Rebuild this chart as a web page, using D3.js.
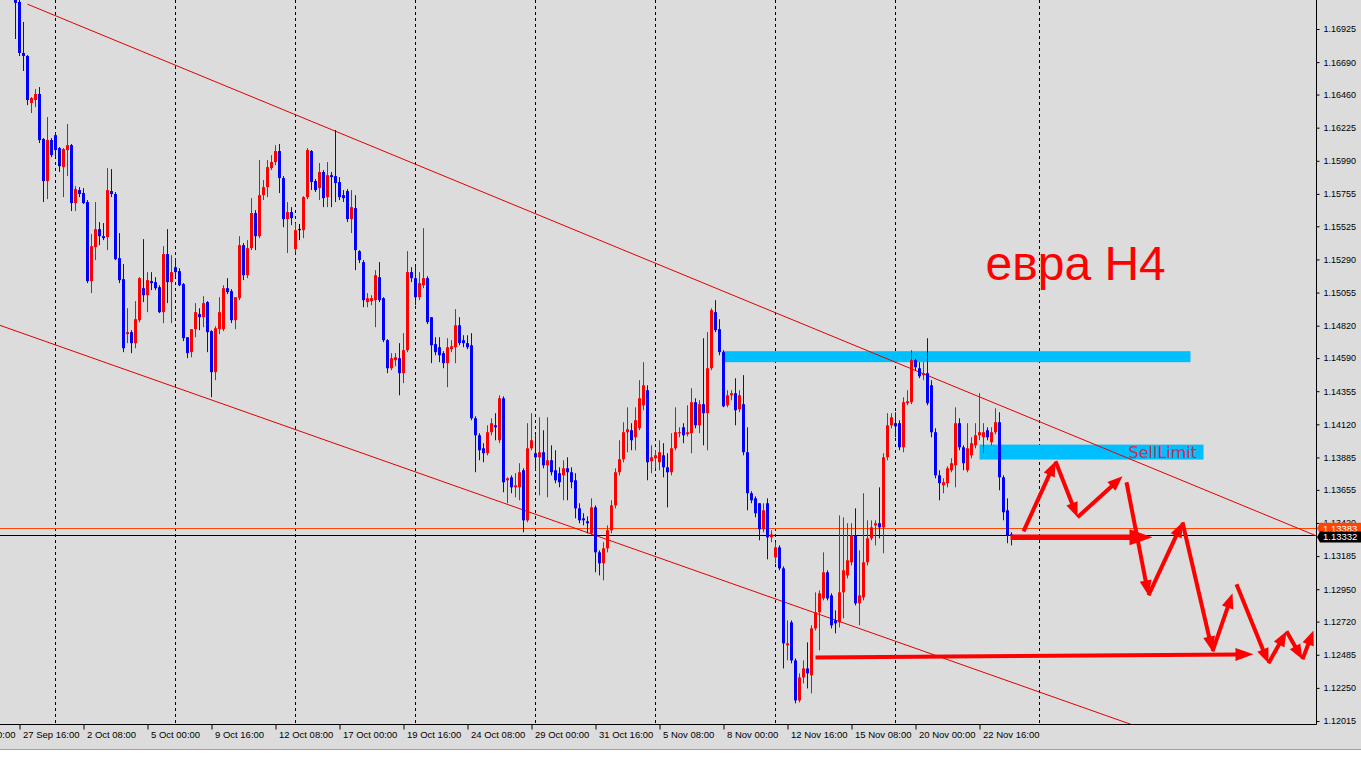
<!DOCTYPE html>
<html><head><meta charset="utf-8">
<script src="https://cdn.jsdelivr.net/npm/d3@7"></script>
<style>html,body{margin:0;padding:0;background:#fff;}svg{display:block;}</style>
</head><body>
<svg id="chart" width="1361" height="757"></svg>
<script>
// ---------- DATA (EURUSD H4) ----------
const opens = [1.17131,1.17117,1.16755,1.16733,1.16400,1.16421,1.16464,1.16144,1.15846,1.16137,
1.16172,1.16080,1.15945,1.16066,1.16101,1.15690,1.15782,1.15761,1.15697,1.15136,
1.15377,1.15505,1.15455,1.15448,1.15775,1.15754,1.15299,1.15150,1.14760,1.14774,
1.14696,1.14859,1.15086,1.15036,1.15136,1.15129,1.15093,1.14916,1.15328,1.15129,
1.15235,1.15207,1.15115,1.14738,1.14632,1.14795,1.14902,1.14880,1.14987,1.14781,
1.14490,1.14795,1.14795,1.15086,1.15065,1.14859,1.15015,1.15391,1.15178,1.15370,
1.15619,1.15455,1.15746,1.15803,1.15938,1.15981,1.16059,1.15867,1.15576,1.15626,
1.15363,1.15505,1.15498,1.15732,1.16059,1.15846,1.15796,1.15910,1.15732,1.15888,
1.15881,1.15839,1.15746,1.15775,1.15576,1.15654,1.15349,1.15271,1.14987,1.14994,
1.15001,1.15164,1.15015,1.14717,1.14518,1.14575,1.14589,1.14483,1.14646,1.15200,
1.15157,1.15022,1.15107,1.15157,1.14880,1.14689,1.14667,1.14625,1.14554,1.14653,
1.14667,1.14823,1.14717,1.14696,1.14681,1.14163,1.14042,1.13950,1.13915,1.14064,
1.14113,1.14007,1.14305,1.13723,1.13744,1.13673,1.13673,1.13794,1.13439,1.13950,
1.13915,1.13886,1.13922,1.13829,1.13865,1.13794,1.13773,1.13758,1.13808,1.13780,
1.13723,1.13524,1.13453,1.13432,1.13347,1.13531,1.13212,1.13134,1.13240,1.13368,
1.13545,1.13780,1.13872,1.14064,1.14078,1.14028,1.14092,1.14255,1.14362,1.13858,
1.13879,1.13851,1.13900,1.13815,1.13780,1.13950,1.14057,1.14099,1.14050,1.14057,
1.14277,1.14113,1.14263,1.14199,1.14518,1.14916,1.14795,1.14632,1.14255,1.14326,
1.14341,1.14227,1.14263,1.13922,1.13631,1.13595,1.13560,1.13375,1.13560,1.13318,
1.13176,1.13247,1.13098,1.12552,1.12715,1.12445,1.12161,1.12324,1.12388,1.12339,
1.12672,1.12786,1.12885,1.13070,1.12906,1.12729,1.12715,1.12928,1.13048,1.13141,
1.13332,1.12850,1.12892,1.13141,1.13311,1.13403,1.13418,1.13389,1.13886,1.14113,
1.14128,1.14128,1.13957,1.14270,1.14277,1.14575,1.14518,1.14469,1.14483,1.14397,
1.14064,1.13758,1.13687,1.13702,1.13794,1.13829,1.14128,1.13957,1.13794,1.13900,
1.13971,1.14042,1.14028,1.14078,1.13993,1.14064,1.14135,1.13744,1.13510,1.13340];

const highs = [1.17152,1.17131,1.16975,1.16740,1.16442,1.16499,1.16513,1.16151,1.16300,1.16151,
1.16187,1.16087,1.16080,1.16251,1.16109,1.15810,1.15803,1.15796,1.15711,1.15470,
1.15697,1.15555,1.15548,1.15938,1.15931,1.15768,1.15477,1.15257,1.14944,1.14788,
1.14994,1.15164,1.15434,1.15200,1.15200,1.15164,1.15107,1.15384,1.15505,1.15320,
1.15299,1.15228,1.15122,1.14738,1.14795,1.14980,1.14944,1.15029,1.14994,1.14788,
1.14816,1.15022,1.15107,1.15157,1.15079,1.15022,1.15455,1.15406,1.15427,1.15725,
1.15640,1.15995,1.15853,1.15995,1.16030,1.16101,1.16109,1.15881,1.15697,1.15661,
1.15548,1.15541,1.15739,1.16080,1.16066,1.15860,1.15974,1.15924,1.15981,1.15910,
1.16208,1.15874,1.15782,1.15789,1.15782,1.15746,1.15356,1.15285,1.15051,1.15036,
1.15214,1.15271,1.15022,1.14724,1.14625,1.14625,1.14696,1.14767,1.15349,1.15235,
1.15235,1.15200,1.15512,1.15171,1.14880,1.14738,1.14738,1.14639,1.14731,1.14717,
1.14937,1.14880,1.14752,1.14752,1.14767,1.14177,1.14057,1.13986,1.14113,1.14163,
1.14199,1.14326,1.14319,1.13744,1.13758,1.13773,1.13844,1.13808,1.14128,1.14199,
1.14042,1.14170,1.14078,1.14170,1.13971,1.13936,1.13815,1.13865,1.13886,1.13815,
1.13773,1.13560,1.13489,1.13467,1.13595,1.13545,1.13226,1.13283,1.13403,1.13581,
1.13808,1.14007,1.14135,1.14241,1.14128,1.14241,1.14433,1.14561,1.14397,1.13971,
1.13936,1.14007,1.13986,1.13915,1.14057,1.14241,1.14099,1.14128,1.14255,1.14376,
1.14305,1.14291,1.14731,1.14774,1.14944,1.15001,1.14866,1.14646,1.14362,1.14362,
1.14447,1.14362,1.14469,1.14099,1.13645,1.13609,1.13560,1.13560,1.13595,1.13368,
1.13283,1.13262,1.13112,1.12729,1.12729,1.12459,1.12353,1.12445,1.12573,1.12694,
1.12928,1.12942,1.13212,1.13084,1.12921,1.12800,1.13474,1.13460,1.13418,1.13418,
1.13524,1.13226,1.13631,1.13439,1.13439,1.13439,1.13673,1.13915,1.14199,1.14199,
1.14206,1.14149,1.14312,1.14362,1.14646,1.14589,1.14561,1.14561,1.14731,1.14433,
1.14092,1.13794,1.13737,1.13822,1.13879,1.14241,1.14163,1.13971,1.14128,1.14028,
1.14128,1.14341,1.14128,1.14099,1.14099,1.14234,1.14206,1.13758,1.13595,1.13354];

const lows = [1.16854,1.16733,1.16627,1.16385,1.16329,1.16371,1.16116,1.15697,1.15718,1.16016,
1.16016,1.15910,1.15732,1.15881,1.15633,1.15633,1.15732,1.15683,1.15122,1.15051,
1.15285,1.15391,1.15427,1.15356,1.15732,1.15285,1.15122,1.14632,1.14696,1.14625,
1.14660,1.14845,1.14987,1.14916,1.15072,1.15072,1.14909,1.14838,1.14980,1.14838,
1.15164,1.15100,1.14710,1.14589,1.14596,1.14738,1.14788,1.14809,1.14632,1.14312,
1.14433,1.14760,1.14781,1.15044,1.14838,1.14795,1.15001,1.15143,1.15157,1.15356,
1.15356,1.15441,1.15711,1.15732,1.15924,1.15959,1.15761,1.15519,1.15335,1.15533,
1.15342,1.15427,1.15441,1.15718,1.15782,1.15768,1.15711,1.15661,1.15661,1.15661,
1.15697,1.15711,1.15697,1.15555,1.15477,1.15214,1.15264,1.14951,1.14951,1.14965,
1.14809,1.14987,1.14703,1.14483,1.14504,1.14532,1.14326,1.14412,1.14632,1.15129,
1.14965,1.15001,1.15086,1.14831,1.14554,1.14610,1.14561,1.14518,1.14383,1.14632,
1.14554,1.14681,1.14667,1.14653,1.14149,1.13780,1.13865,1.13851,1.13900,1.14042,
1.14007,1.13986,1.13638,1.13560,1.13631,1.13602,1.13581,1.13354,1.13425,1.13936,
1.13794,1.13616,1.13808,1.13602,1.13758,1.13702,1.13673,1.13581,1.13581,1.13666,
1.13453,1.13418,1.13403,1.13347,1.13332,1.13070,1.13048,1.13013,1.13212,1.13347,
1.13524,1.13758,1.13851,1.13922,1.13936,1.13936,1.14078,1.14220,1.13723,1.13773,
1.13808,1.13794,1.13744,1.13531,1.13758,1.13936,1.14028,1.13986,1.14035,1.13915,
1.14092,1.14057,1.13971,1.13936,1.14504,1.14774,1.14610,1.14241,1.14241,1.14291,
1.14113,1.14206,1.13900,1.13510,1.13560,1.13460,1.13297,1.13354,1.13162,1.13283,
1.13134,1.13084,1.12388,1.12445,1.12424,1.12140,1.12147,1.12282,1.12246,1.12211,
1.12658,1.12516,1.12871,1.12871,1.12672,1.12637,1.12679,1.12743,1.13027,1.13119,
1.12835,1.12694,1.12871,1.13119,1.13297,1.13261,1.13311,1.13205,1.13865,1.14092,
1.14028,1.13936,1.13922,1.14255,1.14263,1.14504,1.14447,1.14433,1.14255,1.14028,
1.13737,1.13581,1.13631,1.13673,1.13780,1.13673,1.13936,1.13794,1.13780,1.13879,
1.13950,1.14007,1.13915,1.14007,1.13971,1.14050,1.13652,1.13439,1.13276,1.13261];

const closes = [1.17110,1.16755,1.16733,1.16421,1.16435,1.16464,1.16137,1.15846,1.16137,1.16030,
1.16066,1.15952,1.16073,1.16101,1.15690,1.15789,1.15754,1.15690,1.15136,1.15384,
1.15505,1.15455,1.15441,1.15782,1.15754,1.15292,1.15143,1.14660,1.14774,1.14696,
1.14866,1.15157,1.15036,1.15143,1.15122,1.15086,1.14916,1.15328,1.15129,1.15200,
1.15200,1.15107,1.14731,1.14625,1.14795,1.14916,1.14880,1.14980,1.14774,1.14490,
1.14802,1.14916,1.15086,1.15058,1.14859,1.15022,1.15391,1.15178,1.15370,1.15619,
1.15455,1.15746,1.15803,1.15945,1.15981,1.16059,1.15867,1.15576,1.15626,1.15583,
1.15498,1.15505,1.15732,1.16066,1.15839,1.15782,1.15910,1.15725,1.15888,1.15874,
1.15832,1.15732,1.15725,1.15576,1.15661,1.15356,1.15285,1.15001,1.15015,1.15015,
1.15178,1.15001,1.14717,1.14518,1.14589,1.14596,1.14483,1.14646,1.15200,1.15157,
1.15022,1.15122,1.15157,1.14845,1.14681,1.14632,1.14610,1.14554,1.14667,1.14674,
1.14823,1.14696,1.14696,1.14667,1.14163,1.14042,1.13936,1.13915,1.14064,1.14128,
1.14099,1.14305,1.13709,1.13737,1.13673,1.13687,1.13780,1.13439,1.13950,1.14007,
1.13886,1.13922,1.13829,1.13865,1.13780,1.13723,1.13709,1.13808,1.13780,1.13709,
1.13524,1.13439,1.13439,1.13418,1.13531,1.13212,1.13134,1.13240,1.13368,1.13545,
1.13780,1.13872,1.14064,1.14085,1.14007,1.14149,1.14305,1.14397,1.13851,1.13886,
1.13900,1.13922,1.13815,1.13780,1.13950,1.14064,1.14064,1.14042,1.14064,1.14277,
1.14113,1.14263,1.14199,1.14518,1.14930,1.14788,1.14632,1.14248,1.14326,1.14341,
1.14220,1.14326,1.13922,1.13631,1.13581,1.13489,1.13375,1.13510,1.13318,1.13339,
1.13247,1.13098,1.12566,1.12566,1.12445,1.12161,1.12324,1.12388,1.12353,1.12672,
1.12786,1.12921,1.13070,1.12885,1.12694,1.12708,1.12928,1.13084,1.13155,1.13332,
1.12850,1.12906,1.13141,1.13311,1.13389,1.13418,1.13389,1.13886,1.14113,1.14170,
1.14106,1.13957,1.14277,1.14284,1.14575,1.14525,1.14461,1.14483,1.14270,1.14064,
1.13758,1.13702,1.13709,1.13808,1.13844,1.14128,1.13957,1.13844,1.13950,1.13986,
1.14042,1.14064,1.14064,1.14028,1.14064,1.14135,1.13744,1.13496,1.13332,1.13332];

// time axis: labels every 16 bars (bar index of each label)
const xTickBars = [-15,1,17,33,49,65,81,97,113,129,145,161,177,193,209,225,241];
const xTickLabels = ["25 Sep 00:00","27 Sep 16:00","2 Oct 08:00","5 Oct 00:00","9 Oct 16:00","12 Oct 08:00",
  "17 Oct 00:00","19 Oct 16:00","24 Oct 08:00","29 Oct 00:00","31 Oct 16:00","5 Nov 08:00",
  "8 Nov 00:00","12 Nov 16:00","15 Nov 08:00","20 Nov 00:00","22 Nov 16:00"];
// weekly separators (bar index)
const weekGridBars = [10,40,70,100,130,160,190,220,256];
// price axis ticks
const yTickValues = [1.16925,1.16690,1.16460,1.16225,1.15990,1.15755,1.15525,1.15290,1.15055,1.14820,
  1.14590,1.14355,1.14120,1.13885,1.13655,1.13420,1.13185,1.12950,1.12720,1.12485,1.12250,1.12015];
const askPrice = 1.13383;
const bidPrice = 1.13332;

// channel trend lines [bar, price]
const upperChannel = [[3, 1.17101],[321.25, 1.13375]];
const lowerChannel = [[-3.75, 1.14821],[277.5, 1.12005]];
// zones [fromBar, toBar, topPrice, bottomPrice]
const resistanceZone = [176.75, 293.75, 1.14639, 1.14561];
const sellLimitZone = [241, 297, 1.13976, 1.13870];
// hand-drawn forecast arrows [fromBar, fromPrice, toBar, toPrice]
const currentArrow = [248.75, 1.13318, 284.25, 1.13318];
const targetArrow = [200, 1.12466, 309.5, 1.12488];
const zigzagArrows = [
  [252, 1.13361, 260, 1.13858],
  [260, 1.13858, 265.5, 1.13460],
  [265.5, 1.13460, 276.75, 1.13751],
  [277.75, 1.13709, 283.25, 1.12906],
  [283.25, 1.12906, 291.75, 1.13425],
  [291.75, 1.13425, 299.25, 1.12509],
  [299.25, 1.12509, 304.25, 1.12921],
  [305.25, 1.12985, 313.25, 1.12424],
  [313.25, 1.12424, 317.75, 1.12651],
  [317.75, 1.12651, 321.75, 1.12452],
  [321.75, 1.12452, 324.5, 1.12658]
];
const titleText = {text: "евра H4", bar: 242.5, price: 1.15143};
const sellLimitText = {text: "SellLimit", bar: 278.25, price: 1.13879};

// ---------- DRAWING ----------
const W = 1361, H = 757;
const plotRight = 1316, plotBottom = 724;
const BG = "#dcdcdc", RED = "#ff0000", BLUE = "#0000ff", ZONE = "#00bfff";
const FONT = "'Liberation Sans', Arial, sans-serif";

const svg = d3.select("#chart");
svg.append("rect").attr("width", W).attr("height", H).attr("fill", BG);
svg.append("rect").attr("x", 0).attr("y", 749).attr("width", W).attr("height", H - 749).attr("fill", "#ffffff");
svg.append("line").attr("x1", 0).attr("x2", W).attr("y1", 749.5).attr("y2", 749.5).attr("stroke", "#a0a0a0");

const x = d3.scaleLinear().domain([0, 249]).range([15.5, 1011.5]);
const y = d3.scaleLinear().domain([1.12015, 1.16925]).range([721, 29]);

svg.append("clipPath").attr("id", "plotclip").append("rect")
  .attr("x", 0).attr("y", 0).attr("width", plotRight).attr("height", plotBottom);

const plot = svg.append("g").attr("clip-path", "url(#plotclip)");

// weekly dashed grid
plot.selectAll("line.grid").data(weekGridBars).join("line")
  .attr("class", "grid")
  .attr("x1", d => Math.floor(x(d)) + 0.5).attr("x2", d => Math.floor(x(d)) + 0.5)
  .attr("y1", 0).attr("y2", plotBottom)
  .attr("stroke", "#000").attr("stroke-width", 1).attr("stroke-dasharray", "3,3");

// blue zones
function zone(z) {
  plot.append("rect")
    .attr("x", x(z[0])).attr("width", x(z[1]) - x(z[0]))
    .attr("y", y(z[2])).attr("height", y(z[3]) - y(z[2]))
    .attr("fill", ZONE);
}
zone(resistanceZone);
zone(sellLimitZone);

// ask / bid lines
plot.append("line").attr("x1", 0).attr("x2", plotRight)
  .attr("y1", Math.round(y(askPrice)) + 0.5).attr("y2", Math.round(y(askPrice)) + 0.5)
  .attr("stroke", "#ff4500").attr("stroke-width", 1);
plot.append("line").attr("x1", 0).attr("x2", plotRight)
  .attr("y1", Math.round(y(bidPrice)) + 0.5).attr("y2", Math.round(y(bidPrice)) + 0.5)
  .attr("stroke", "#000").attr("stroke-width", 1);

// channel lines
function extend(p, q, bx) { return p[1] + (q[1] - p[1]) * (bx - p[0]) / (q[0] - p[0]); }
const rightBar = x.invert(plotRight), leftBar = x.invert(0);
plot.append("line")
  .attr("x1", x(upperChannel[0][0])).attr("y1", y(upperChannel[0][1]))
  .attr("x2", x(rightBar)).attr("y2", y(extend(upperChannel[0], upperChannel[1], rightBar)))
  .attr("stroke", "#e00000").attr("stroke-width", 1);
plot.append("line")
  .attr("x1", x(leftBar)).attr("y1", y(extend(lowerChannel[0], lowerChannel[1], leftBar)))
  .attr("x2", x(rightBar)).attr("y2", y(extend(lowerChannel[0], lowerChannel[1], rightBar)))
  .attr("stroke", "#e00000").attr("stroke-width", 1);

// candles
const candles = opens.map((o, i) => ({i, o, h: highs[i], l: lows[i], c: closes[i]}));
const colorOf = d => d.c > d.o ? RED : (d.c < d.o ? BLUE : "#000");
plot.selectAll("line.wick").data(candles).join("line")
  .attr("class", "wick")
  .attr("x1", d => x(d.i)).attr("x2", d => x(d.i))
  .attr("y1", d => y(d.h)).attr("y2", d => y(d.l))
  .attr("stroke", colorOf).attr("stroke-width", 1);
plot.selectAll("rect.body").data(candles).join("rect")
  .attr("class", "body")
  .attr("x", d => x(d.i) - 1.5).attr("width", 3)
  .attr("y", d => Math.min(y(d.o), y(d.c)))
  .attr("height", d => Math.max(1, Math.abs(y(d.o) - y(d.c))))
  .attr("fill", colorOf);

// texts
plot.append("text").text(sellLimitText.text)
  .attr("x", x(sellLimitText.bar)).attr("y", y(sellLimitText.price))
  .attr("font-family", "'DejaVu Sans', Verdana, sans-serif").attr("font-size", 16)
  .attr("fill", "#dc2850");
plot.append("text").text(titleText.text)
  .attr("x", x(titleText.bar)).attr("y", y(titleText.price))
  .attr("font-family", FONT).attr("font-size", 48).attr("fill", "#f00");

// arrows
function arrow(seg, width, headLen, headW) {
  const x0 = x(seg[0]), y0 = y(seg[1]), x1 = x(seg[2]), y1 = y(seg[3]);
  const len = Math.hypot(x1 - x0, y1 - y0);
  const ux = (x1 - x0) / len, uy = (y1 - y0) / len, nx = -uy, ny = ux;
  const ex = x1 - ux * headLen * 0.8, ey = y1 - uy * headLen * 0.8;
  plot.append("line").attr("x1", x0).attr("y1", y0).attr("x2", ex).attr("y2", ey)
    .attr("stroke", RED).attr("stroke-width", width);
  const bx = x1 - ux * headLen, by = y1 - uy * headLen;
  plot.append("polygon")
    .attr("points", [[x1, y1], [bx + nx * headW / 2, by + ny * headW / 2], [bx - nx * headW / 2, by - ny * headW / 2]].map(p => p.join(",")).join(" "))
    .attr("fill", RED);
}
arrow(targetArrow, 4, 18, 13);
arrow(currentArrow, 5.5, 23, 16);
zigzagArrows.forEach(s => arrow(s, 4, 15, 12));

// axes frame
svg.append("line").attr("x1", plotRight + 0.5).attr("x2", plotRight + 0.5).attr("y1", 0).attr("y2", plotBottom + 0.5)
  .attr("stroke", "#000");
svg.append("line").attr("x1", 0).attr("x2", plotRight + 0.5).attr("y1", plotBottom + 0.5).attr("y2", plotBottom + 0.5)
  .attr("stroke", "#000");

// price axis
const yAxis = svg.append("g").attr("transform", `translate(${plotRight + 0.5},0)`)
  .call(d3.axisRight(y).tickValues(yTickValues).tickFormat(d3.format(".5f")).tickSize(3).tickPadding(4));
yAxis.select(".domain").remove();
yAxis.selectAll("text").attr("font-family", FONT).attr("font-size", 9).attr("fill", "#000");
yAxis.selectAll("line").attr("stroke", "#000");

// time axis
const xAxis = svg.append("g").attr("transform", `translate(0,${plotBottom + 0.5})`)
  .call(d3.axisBottom(x).tickValues(xTickBars).tickFormat((d, i) => xTickLabels[i]).tickSize(5).tickPadding(4));
xAxis.select(".domain").remove();
xAxis.selectAll("text").attr("font-family", FONT).attr("font-size", 9.5).attr("fill", "#000")
  .attr("text-anchor", "start").attr("dx", 3).attr("dy", "0.5em");
xAxis.selectAll("line").attr("stroke", "#000");

// current price tags
function priceTag(price, fill, dyOff) {
  const cy = y(price) + dyOff;
  const g = svg.append("g");
  g.append("path")
    .attr("d", `M${plotRight + 1},${cy} L${plotRight + 4},${cy - 5.5} L${W},${cy - 5.5} L${W},${cy + 5.5} L${plotRight + 4},${cy + 5.5} Z`)
    .attr("fill", fill);
  g.append("text").text(d3.format(".5f")(price))
    .attr("x", plotRight + 7).attr("y", cy).attr("dy", "0.35em")
    .attr("font-family", FONT).attr("font-size", 9.5).attr("fill", "#fff");
}
priceTag(askPrice, "#ff4500", 0);
priceTag(bidPrice, "#000", 1.5);
</script>
</body></html>
